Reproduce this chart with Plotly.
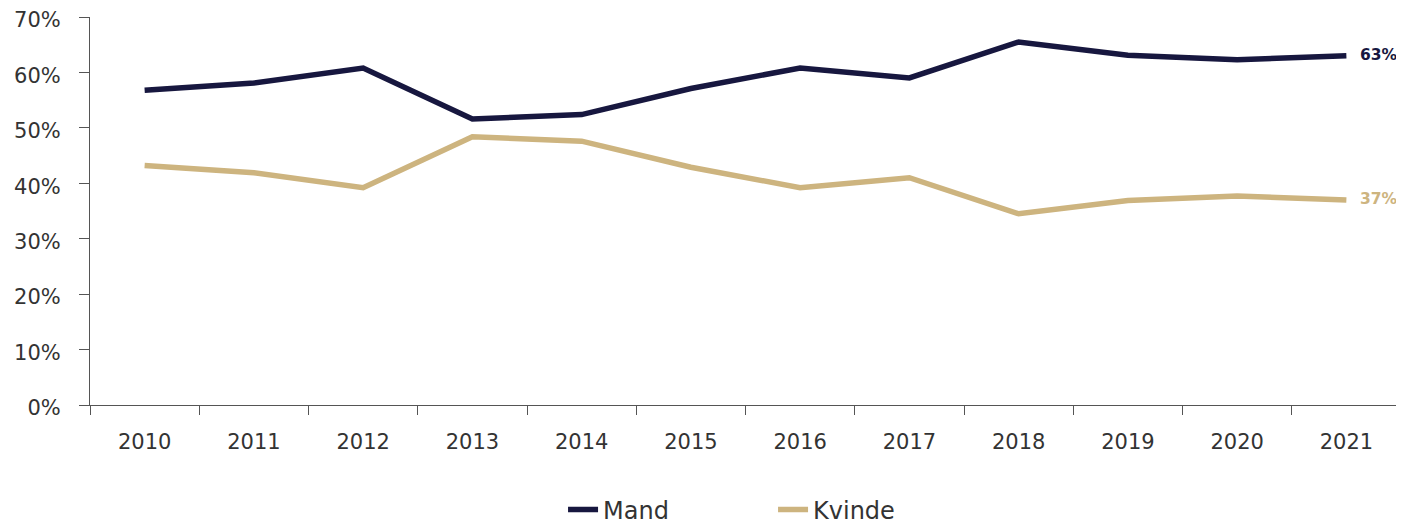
import plotly.graph_objects as go

years = ["2010", "2011", "2012", "2013", "2014", "2015", "2016", "2017", "2018", "2019", "2020", "2021"]
mand = [56.8, 58.1, 60.8, 51.6, 52.4, 57.1, 60.8, 59.0, 65.5, 63.1, 62.3, 63.0]
kvinde = [43.2, 41.9, 39.2, 48.4, 47.6, 42.9, 39.2, 41.0, 34.5, 36.9, 37.7, 37.0]
end_labels = ["63%", "37%"]
y_ticks = [0, 10, 20, 30, 40, 50, 60, 70]
y_ticktext = ["\u20070%", "10%", "20%", "30%", "40%", "50%", "60%", "70%"]

navy = "#17173f"
gold = "#cdb47f"
font = "DejaVu Sans"

fig = go.Figure()
fig.add_trace(go.Scatter(x=years, y=mand, name="Mand", mode="lines",
                         line=dict(color=navy, width=5.5)))
fig.add_trace(go.Scatter(x=years, y=kvinde, name="Kvinde", mode="lines",
                         line=dict(color=gold, width=5.5)))

# end-of-line value labels
for vals, lab, col in [(mand, end_labels[0], navy), (kvinde, end_labels[1], gold)]:
    fig.add_trace(go.Scatter(x=[years[-1]], y=[vals[-1]], mode="markers+text",
                             text=["<b>" + lab + "</b>"], textposition="middle right",
                             marker=dict(size=20, color="rgba(0,0,0,0)"),
                             textfont=dict(family=font, size=15.5, color=col),
                             showlegend=False, hoverinfo="skip", cliponaxis=False))

fig.update_layout(
    width=1396, height=518,
    margin=dict(l=82, r=3, t=9, b=121),
    plot_bgcolor="white", paper_bgcolor="white",
    font=dict(family=font, size=21, color="#333333"),
    showlegend=True,
    legend=dict(orientation="h", xref="container", x=0.3976, xanchor="left",
                yref="container", y=0.031, yanchor="middle",
                font=dict(size=24, color="#333333"), itemwidth=30,
                entrywidth=165),
    xaxis=dict(type="category", tickson="boundaries", ticks="outside", ticklen=9,
               tickcolor="#555555", showline=True, linecolor="#555555", linewidth=1,
               showgrid=False, zeroline=False, ticklabelstandoff=18,
               range=[-0.5, 11.5], automargin=False),
    yaxis=dict(range=[0, 70], tickvals=y_ticks, ticktext=y_ticktext,
               ticks="outside", ticklen=10, tickcolor="#555555",
               showline=True, linecolor="#555555", linewidth=1,
               showgrid=False, zeroline=False, ticklabelstandoff=14,
               ticklabelshift=3, ticklabeloverflow="allow", automargin=False),
)

fig.write_html("out.html")
